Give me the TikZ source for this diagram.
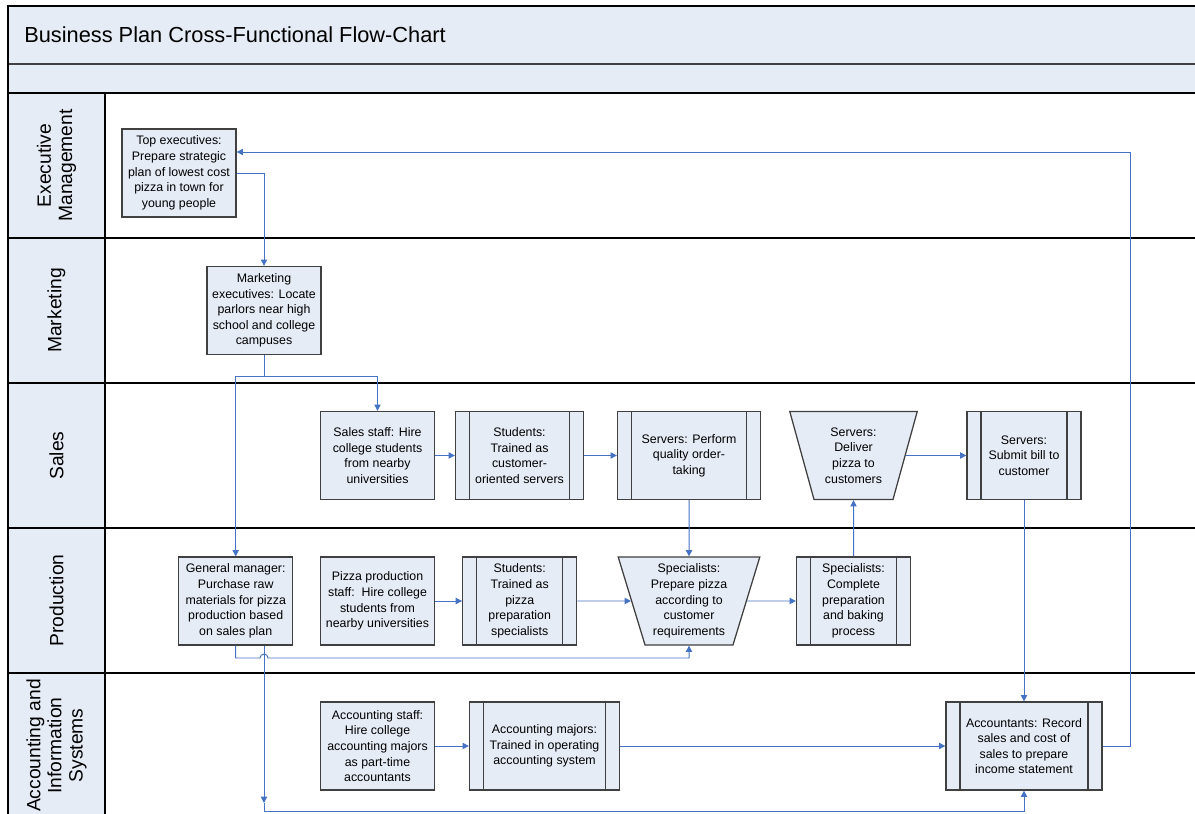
\documentclass[tikz,border=0pt]{standalone}
\usepackage{fontspec}
\setmainfont{Liberation Sans}
\usetikzlibrary{arrows.meta,shapes.geometric}
\definecolor{bandfill}{HTML}{E6ECF6}
\definecolor{boxgray}{HTML}{404040}
\definecolor{flowblue}{HTML}{4472C4}

\begin{document}
\begin{tikzpicture}[x=0.025cm,y=-0.025cm,>={Triangle[length=4.5pt,width=4.5pt]},
    lane/.style={draw=black,line width=1pt},
    task/.style={draw=boxgray,fill=bandfill,line width=0.9pt,minimum width=2.85cm,minimum height=2.2cm,inner sep=1pt,align=center,font=\fontsize{8.8}{11.1}\selectfont},
    subproc/.style={task,minimum width=#1,path picture={
        \draw[boxgray,line width=0.9pt] ([xshift=0.35cm]path picture bounding box.north west) -- ([xshift=0.35cm]path picture bounding box.south west)
            ([xshift=-0.35cm]path picture bounding box.north east) -- ([xshift=-0.35cm]path picture bounding box.south east);}},
    manual/.style={task,trapezium,shape border rotate=180,trapezium angle=72.5,trapezium stretches=true,minimum width=#1,inner sep=0pt},
    flow/.style={->,draw=flowblue,line width=0.7pt},
    lanelabel/.style={rotate=90,align=center,font=\fontsize{13.7}{15}\selectfont}]
    \useasboundingbox (0,0) rectangle (1195,814);
    \fill[bandfill] (8,6) rectangle (1195,93);
    \fill[bandfill] (8,93) rectangle (105,818);
    \draw[boxgray,line width=0.8pt] (8,64) -- (1195,64);
    \draw[lane] (1195,6) -- (8,6) -- (8,818);
    \foreach \y in {93,238,383,528,673}
        \draw[lane] (8,\y) -- (1195,\y);
    \draw[lane] (105,93) -- (105,818);
    \node[anchor=west,inner sep=0pt,font=\fontsize{15.5}{18}\selectfont] (title) at (24,35) {Business Plan Cross-Functional Flow-Chart};
    \node[lanelabel] (lexec) at (56.5,165.5) {Executive\\Management};
    \node[lanelabel] (lmkt) at (56.5,310.5) {Marketing};
    \node[lanelabel] (lsales) at (56.5,455.5) {Sales};
    \node[lanelabel] (lprod) at (56.5,600.5) {Production};
    \node[lanelabel] (lacc) at (56.5,745.5) {Accounting and\\Information\\Systems};

    \node[task] (exec) at (179,173) {Top executives:\\Prepare strategic\\plan of lowest cost\\pizza in town for\\young people};
    \node[task] (mkt) at (264,310.5) {Marketing\\executives: Locate\\parlors near high\\school and college\\campuses};
    \node[task] (sstaff) at (377.5,455.5) {Sales staff: Hire\\college students\\from nearby\\universities};
    \node[subproc=3.2cm] (strain) at (519.5,455.5) {Students:\\Trained as\\customer-\\oriented servers};
    \node[subproc=3.575cm] (serve) at (689,455.5) {Servers: Perform\\quality order-\\taking};
    \node[manual=3.2cm] (deliver) at (853.5,455.5) {Servers:\\Deliver\\pizza to\\customers};
    \node[subproc=2.85cm] (bill) at (1024,455.5) {Servers:\\Submit bill to\\customer};
    \node[task] (gm) at (235.7,601) {General manager:\\Purchase raw\\materials for pizza\\production based\\on sales plan};
    \node[task] (pstaff) at (377.5,601) {Pizza production\\staff:\ \ Hire college\\students from\\nearby universities};
    \node[subproc=2.85cm] (ptrain) at (519.7,601) {Students:\\Trained as\\pizza\\preparation\\specialists};
    \node[manual=3.55cm] (prep) at (689,601) {Specialists:\\Prepare pizza\\according to\\customer\\requirements};
    \node[subproc=2.85cm] (bake) at (853.5,601) {Specialists:\\Complete\\preparation\\and baking\\process};
    \node[task] (astaff) at (377.5,746) {Accounting staff:\\Hire college\\accounting majors\\as part-time\\accountants};
    \node[subproc=3.75cm] (amajor) at (544.5,746) {Accounting majors:\\Trained in operating\\accounting system};
    \node[subproc=3.9cm] (record) at (1024,746) {Accountants: Record\\sales and cost of\\sales to prepare\\income statement};

    \coordinate (split) at (264,376);
    \coordinate (hop) at (264,658);
    \coordinate (drop) at (264,803);
    \coordinate (floor) at (264,811.7);
    \coordinate (ret) at (1130,152);
    \draw[flow] (exec.east) -| (mkt.north);
    \draw[flow] (mkt.south) -- (split) -| (sstaff.north);
    \draw[flow] (split) -| (gm.north);
    \draw[flow] (sstaff) -- (strain);
    \draw[flow] (strain) -- (serve);
    \draw[flow] (serve) -- (prep);
    \draw[flow] (deliver) -- (bill);
    \draw[flow] (bill) -- (record);
    \draw[flow] (pstaff) -- (ptrain);
    \draw[flow] (ptrain) -- (prep);
    \draw[flow] (prep) -- (bake);
    \draw[flow] (bake) -- (deliver);
    \draw[flow] (astaff) -- (amajor);
    \draw[flow] (amajor) -- (record);
    \draw[flow] (gm.south) |- ([xshift=-0.1cm]hop) arc[start angle=180,end angle=0,radius=0.1cm] -| (prep.south);
    \draw[flow] (gm.south -| mkt.south) -- (drop);
    \draw[flow] (drop) -- (floor) -| (record.south);
    \draw[flow] (record.east) -| (ret) -- (ret -| exec.east);
\end{tikzpicture}
\end{document}
